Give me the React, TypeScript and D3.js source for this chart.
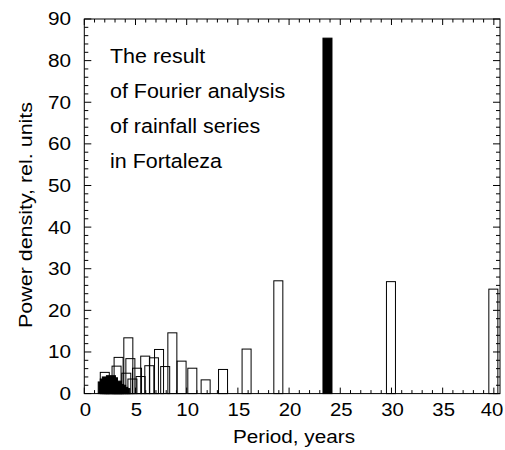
import * as d3 from "d3";

// spectral peaks: period (years) and power density
const periods = [
  2.0, 3.15, 3.35, 4.3, 4.5, 4.1, 5.15, 4.7, 5.5, 5.95, 6.35, 6.8, 7.3, 7.9,
  8.6, 9.5, 10.55, 11.85, 13.55, 15.85, 18.95, 29.95, 39.95,
];
const powers = [
  5.1, 6.6, 8.7, 13.4, 8.4, 4.9, 6.1, 3.5, 4.1, 9.0, 6.7, 8.6, 10.6, 6.5,
  14.6, 7.8, 6.1, 3.3, 5.8, 10.7, 27.1, 26.9, 25.1,
];
// dense low-power harmonics at short periods
const shortPeriods = [1.8, 2.0, 2.2, 2.4, 2.6, 2.8, 3.0, 3.2, 3.4, 3.6, 3.8, 4.0];
const shortPowers = [2.8, 3.5, 4.0, 3.2, 4.3, 3.8, 2.5, 3.0, 2.2, 2.0, 1.5, 1.2];
// the dominant peak
const peakPeriod = 23.75;
const peakPower = 85.4;

const xTicks = [0, 5, 10, 15, 20, 25, 30, 35, 40];
const yTicks = [0, 10, 20, 30, 40, 50, 60, 70, 80, 90];
const note = ["The result", "of Fourier analysis", "of rainfall series", "in Fortaleza"];

const W = 505;
const H = 450;
const left = 84.3;
const right = 500;
const top = 19;
const bottom = 393.6;
const barW = 0.88;
const font = "'Liberation Sans', Arial, Helvetica, sans-serif";

export default function App() {
  const x = d3.scaleLinear().domain([0, 40.6]).range([left, right]);
  const y = d3.scaleLinear().domain([0, 90]).range([bottom, top]);

  const xMinor = d3.range(0, 41, 1);
  const yMinor = d3.range(0, 91, 2);

  const bar = (p: number, v: number, i: string, fill = "none") => (
    <rect
      key={i}
      x={x(p - barW / 2)}
      y={y(v)}
      width={x(barW) - x(0)}
      height={y(0) - y(v)}
      fill={fill}
      stroke="#000"
      strokeWidth={1}
    />
  );

  return (
    <svg
      width={W}
      height={H}
      style={{ position: "absolute", left: 0, top: 0, background: "#fff" }}
    >
      <g>
        {shortPeriods.map((p, i) => bar(p, shortPowers[i], "s" + i, "#000"))}
        {periods.map((p, i) => bar(p, powers[i], "b" + i))}
        {bar(peakPeriod, peakPower, "peak", "#000")}
      </g>

      {/* ticks, inward on all four sides */}
      <g stroke="#000" strokeWidth={1}>
        {xMinor.map((t) => {
          const len = t % 5 === 0 ? 6 : 3.5;
          return (
            <g key={"xt" + t}>
              <line x1={x(t)} x2={x(t)} y1={bottom} y2={bottom - len} />
              <line x1={x(t)} x2={x(t)} y1={top} y2={top + len} />
            </g>
          );
        })}
        {yMinor.map((t) => {
          const len = t % 10 === 0 ? 7 : 4;
          return (
            <g key={"yt" + t}>
              <line x1={left} x2={left + len} y1={y(t)} y2={y(t)} />
              <line x1={right} x2={right - len} y1={y(t)} y2={y(t)} />
            </g>
          );
        })}
      </g>
      <rect
        x={left}
        y={top}
        width={right - left}
        height={bottom - top}
        fill="none"
        stroke="#000"
        strokeWidth={1}
      />

      <g fontFamily={font} fontSize={18.5} fill="#000">
        {xTicks.map((t) => (
          <text
            key={"xl" + t}
            transform={`translate(${Math.min(x(t) + 1, W - 13)},416) scale(1.1,1)`}
            textAnchor="middle"
          >
            {t}
          </text>
        ))}
        {yTicks.map((t) => (
          <text
            key={"yl" + t}
            transform={`translate(71,${y(t)}) scale(1.12,1)`}
            textAnchor="end"
            dy="0.35em"
          >
            {t}
          </text>
        ))}
        <text transform="translate(294,443.3) scale(1.12,1)" textAnchor="middle">
          Period, years
        </text>
        <text
          transform="translate(32,215) rotate(-90) scale(1.16,1)"
          textAnchor="middle"
        >
          Power density, rel. units
        </text>
      </g>

      <g fontFamily={font} fontSize={19.5} fill="#000">
        {note.map((s, i) => (
          <text key={"n" + i} transform={`translate(110,${62.7 + i * 35.2}) scale(1.1,1)`}>
            {s}
          </text>
        ))}
      </g>
    </svg>
  );
}
